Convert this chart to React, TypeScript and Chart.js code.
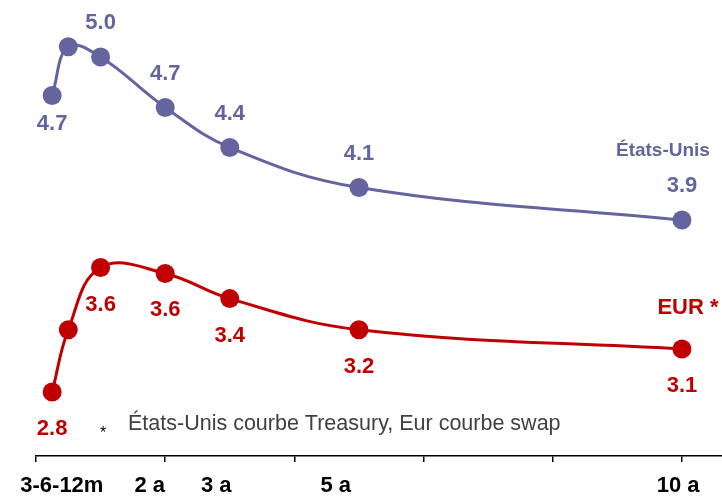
import React, { useEffect, useRef } from "react";
import { Chart, registerables } from "chart.js";

Chart.register(...registerables);

// maturities in years
const maturities = [0.25, 0.5, 1, 2, 3, 5, 10];
const usValues = [4.74, 5.07, 5.0, 4.66, 4.39, 4.12, 3.9];
const eurValues = [2.74, 3.16, 3.58, 3.54, 3.37, 3.16, 3.03];
const usLabels = ["4.7", "", "5.0", "4.7", "4.4", "4.1", "3.9"];
const eurLabels = ["2.8", "", "3.6", "3.6", "3.4", "3.2", "3.1"];
const usLabelSide = ["below", "", "above", "above", "above", "above", "above"];
const eurLabelSide = ["below", "", "below", "below", "below", "below", "below"];
const axisLabels = ["3-6-12m", "2 a", "3 a", "5 a", "10 a"];
const axisLabelAt = [0.4, 1.76, 2.79, 4.64, 9.94];
const axisTicks = [0, 2, 4, 6, 8, 10];
const seriesNames = ["États-Unis", "EUR *"];
const footnote = "États-Unis courbe Treasury, Eur courbe swap";

const US_COLOR = "#64649E";
const EUR_COLOR = "#C00000";
const FONT = "'Liberation Sans', Arial, sans-serif";

const labelsPlugin = {
  id: "customLabels",
  afterDatasetsDraw(chart: any) {
    const ctx = chart.ctx;
    const xs = chart.scales.x;
    const ys = chart.scales.y;
    ctx.save();
    ctx.textAlign = "center";
    ctx.textBaseline = "middle";
    ctx.font = `bold 22px ${FONT}`;
    // US labels
    ctx.fillStyle = US_COLOR;
    maturities.forEach((m, i) => {
      if (!usLabels[i]) return;
      const px = xs.getPixelForValue(m);
      const py = ys.getPixelForValue(usValues[i]);
      const dy = usLabelSide[i] === "above" ? -34 : 28;
      ctx.fillText(usLabels[i], px, py + dy);
    });
    ctx.fillStyle = EUR_COLOR;
    maturities.forEach((m, i) => {
      if (!eurLabels[i]) return;
      const px = xs.getPixelForValue(m);
      const py = ys.getPixelForValue(eurValues[i]);
      const dy = eurLabelSide[i] === "above" ? -34 : 37;
      ctx.fillText(eurLabels[i], px, py + dy);
    });
    // series names
    const lastX = xs.getPixelForValue(maturities[maturities.length - 1]);
    ctx.fillStyle = US_COLOR;
    ctx.font = `bold 19px ${FONT}`;
    ctx.fillText(seriesNames[0], lastX - 19, 151);
    ctx.fillStyle = EUR_COLOR;
    ctx.font = `bold 22px ${FONT}`;
    ctx.fillText(seriesNames[1], lastX + 6, 308);
    // footnote
    ctx.fillStyle = "#000000";
    ctx.font = `16px ${FONT}`;
    ctx.textBaseline = "alphabetic";
    ctx.fillText("*", 103, 438);
    ctx.fillStyle = "#404040";
    ctx.font = `21.5px ${FONT}`;
    ctx.textAlign = "left";
    ctx.fillText(footnote, 128, 430);
    // axis labels
    ctx.fillStyle = "#000000";
    ctx.font = `bold 22px ${FONT}`;
    ctx.textAlign = "center";
    ctx.textBaseline = "middle";
    axisLabels.forEach((l, i) => {
      ctx.fillText(l, xs.getPixelForValue(axisLabelAt[i]), 486);
    });
    ctx.restore();
  },
};

export default function App() {
  const ref = useRef<HTMLCanvasElement>(null);
  useEffect(() => {
    document.body.style.margin = "0";
    const chart = new Chart(ref.current!, {
      type: "line",
      data: {
        datasets: [
          {
            label: seriesNames[0],
            data: maturities.map((m, i) => ({ x: m, y: usValues[i] })),
            borderColor: US_COLOR,
            backgroundColor: US_COLOR,
            borderWidth: 3,
            pointRadius: 9.5,
            pointHoverRadius: 9.5,
            pointBorderWidth: 0,
            tension: 0.4,
            clip: false as any,
          },
          {
            label: seriesNames[1],
            data: maturities.map((m, i) => ({ x: m, y: eurValues[i] })),
            borderColor: EUR_COLOR,
            backgroundColor: EUR_COLOR,
            borderWidth: 3,
            pointRadius: 9.5,
            pointHoverRadius: 9.5,
            pointBorderWidth: 0,
            tension: 0.4,
            clip: false as any,
          },
        ],
      },
      options: {
        animation: false,
        responsive: false,
        layout: { autoPadding: false, padding: { left: 36, right: 0, top: 0, bottom: 0 } },
        plugins: { legend: { display: false }, tooltip: { enabled: false } },
        scales: {
          x: {
            type: "linear",
            min: 0,
            max: 10.62,
            afterBuildTicks: (scale: any) => {
              scale.ticks = axisTicks.map((v) => ({ value: v }));
            },
            afterFit: (scale: any) => {
              scale.height = 41;
            },
            ticks: { display: false },
            grid: {
              drawOnChartArea: false,
              drawTicks: true,
              tickLength: 6,
              color: "#000000",
              lineWidth: 1.5,
            },
            border: { display: true, color: "#000000", width: 1.5 },
          },
          y: {
            display: false,
            min: 2.308,
            max: 5.385,
          },
        },
      },
      plugins: [labelsPlugin],
    });
    return () => chart.destroy();
  }, []);
  return (
    <div style={{ position: "fixed", left: 0, top: 0, width: 722, height: 497, background: "#fff" }}>
      <canvas ref={ref} width={722} height={497} style={{ width: 722, height: 497 }} />
    </div>
  );
}
